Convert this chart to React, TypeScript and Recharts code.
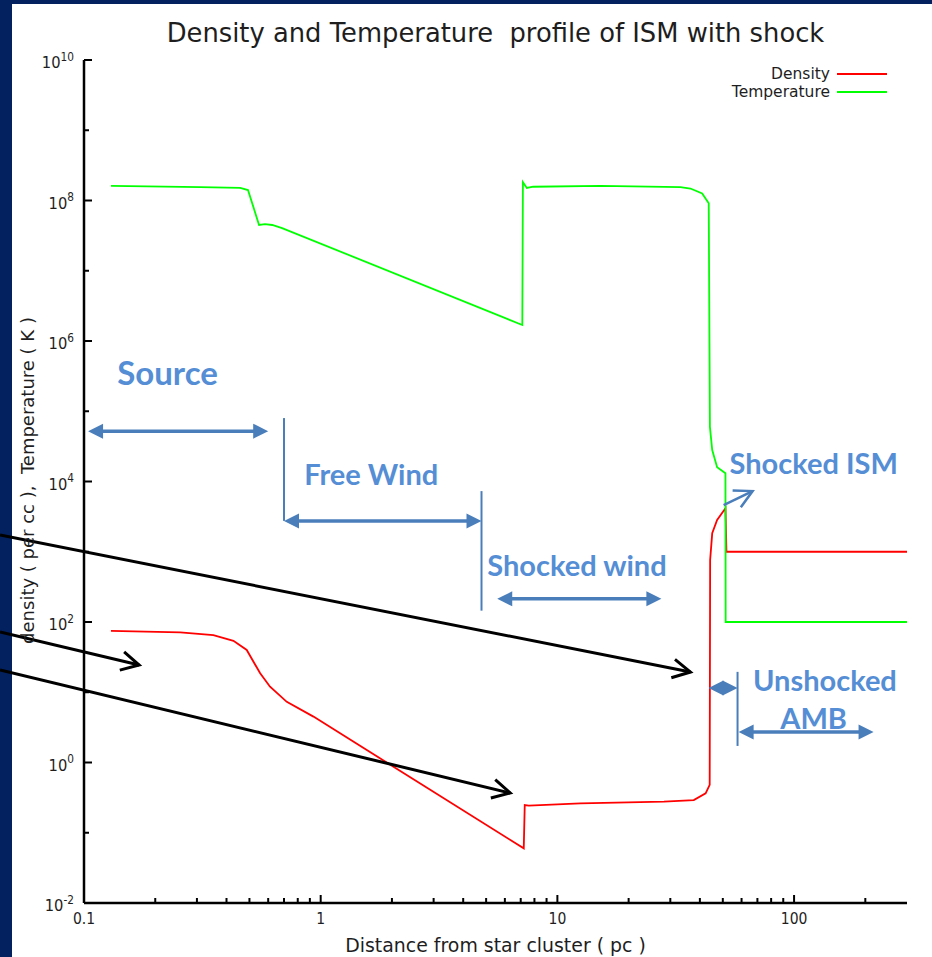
import React from "react";
import { LineChart, Line, XAxis, YAxis, ReferenceLine, ReferenceDot } from "recharts";

const WIDTH = 932;
const HEIGHT = 957;
const NAVY = "#03215f";
const RED = "#ff0000";
const GREEN = "#00ff00";
const NOTE_TEXT = "#558ed5";
const NOTE_LINE = "#4a7ebb";
const INK = "#1e1e1e";
const PLAIN = "'DejaVu Sans', sans-serif";
const NOTE_FONT = "Lato, 'Open Sans', sans-serif";

// axis ticks (log scales)
const distanceTicks = [
  0.1, 0.2, 0.3, 0.4, 0.5, 0.6, 0.7, 0.8, 0.9,
  1, 2, 3, 4, 5, 6, 7, 8, 9,
  10, 20, 30, 40, 50, 60, 70, 80, 90,
  100, 200,
];
const powerTicks = [1e-2, 1e-1, 1, 1e1, 1e2, 1e3, 1e4, 1e5, 1e6, 1e7, 1e8, 1e9, 1e10];

// temperature (K) vs distance (pc)
const tempDistance = [
  0.13, 0.31, 0.457, 0.493, 0.549, 0.582, 0.624, 0.687, 7.11, 7.15, 7.43, 7.9,
  15.2, 33.1, 36.5, 40.9, 43.6, 44.1, 45.1, 47.3, 51.3, 51.4, 300,
];
const temperature = [
  1.61e8, 1.55e8, 1.51e8, 1.41e8, 4.48e7, 4.62e7, 4.48e7, 4.05e7, 1.69e6, 1.83e8, 1.51e8, 1.57e8,
  1.61e8, 1.55e8, 1.48e8, 1.26e8, 9.1e7, 6.0e4, 2.8e4, 1.6e4, 1.31e4, 100, 100,
];

// number density (per cc) vs distance (pc)
const densDistance = [
  0.13, 0.255, 0.352, 0.428, 0.487, 0.555, 0.611, 0.719, 0.932, 7.21, 7.28, 7.57,
  12.5, 28.2, 37.7, 42.3, 44.0, 44.2, 45.1, 47.3, 51.3, 51.8, 300,
];
const density = [
  75, 71, 65, 54, 40, 18.6, 12.0, 7.3, 4.5, 0.06, 0.248, 0.243,
  0.262, 0.277, 0.292, 0.364, 0.48, 764, 1830, 2830, 4150, 1000, 1000,
];

const temperatureRows = tempDistance.map((r, i) => ({ r, v: temperature[i] }));
const densityRows = densDistance.map((r, i) => ({ r, v: density[i] }));

type Pt = { x: number; y: number };

// region markers drawn on top of the profile
const regionArrows: [Pt, Pt][] = [
  [{ x: 0.104, y: 5.2e4 }, { x: 0.6, y: 5.2e4 }],
  [{ x: 0.7, y: 2.75e3 }, { x: 4.78, y: 2.75e3 }],
  [{ x: 5.57, y: 214 }, { x: 27.5, y: 214 }],
  [{ x: 43.5, y: 11.5 }, { x: 57.7, y: 11.5 }],
  [{ x: 58.3, y: 2.72 }, { x: 216.7, y: 2.72 }],
];
const regionBounds: [Pt, Pt][] = [
  [{ x: 0.7, y: 8e4 }, { x: 0.7, y: 2.75e3 }],
  [{ x: 4.78, y: 7.3e3 }, { x: 4.78, y: 145 }],
  [{ x: 57.7, y: 19.5 }, { x: 57.7, y: 1.72 }],
];
const regionLabels = [
  { text: "Source", x: 0.2255, y: 3.5e5, size: 33 },
  { text: "Free Wind", x: 1.635, y: 1.24e4, size: 29 },
  { text: "Shocked wind", x: 12.1, y: 627, size: 29 },
  { text: "Shocked ISM", x: 121, y: 1.83e4, size: 29 },
  { text: "Unshocked", x: 135, y: 14.5, size: 29 },
  { text: "AMB", x: 121, y: 4.16, size: 29 },
];
const shockPointer: [Pt, Pt] = [{ x: 50.4, y: 4.6e3 }, { x: 66.8, y: 7.3e3 }];
const pointerArrows: [Pt, Pt][] = [
  [{ x: 0.0442, y: 1730 }, { x: 36.5, y: 19.4 }],
  [{ x: 0.0442, y: 72 }, { x: 0.171, y: 24.4 }],
  [{ x: 0.0442, y: 20.7 }, { x: 6.32, y: 0.368 }],
];

const isDecade = (v: number) => Math.abs(Math.log10(v) - Math.round(Math.log10(v))) < 1e-6;

function BottomTick(props: any) {
  const { x, y, payload } = props;
  const major = isDecade(payload.value);
  return (
    <g>
      <line x1={x} x2={x} y1={y} y2={y - (major ? 8 : 5)} stroke="#000" strokeWidth={2} />
      {major && (
        <text
          transform={`translate(${x},${y + 21}) scale(0.9,1)`}
          textAnchor="middle"
          fontFamily={PLAIN}
          fontSize={15.5}
          fill={INK}
        >
          {String(payload.value)}
        </text>
      )}
    </g>
  );
}

function TopTick(props: any) {
  const { x, y, payload } = props;
  const major = isDecade(payload.value);
  return <line x1={x} x2={x} y1={y} y2={y + (major ? 8 : 5)} stroke="#000" strokeWidth={2} />;
}

function LeftTick(props: any) {
  const { x, y, payload } = props;
  const exp = Math.round(Math.log10(payload.value));
  const labelled = exp % 2 === 0;
  return (
    <g>
      <line x1={x} x2={x + (labelled ? 8 : 5)} y1={y} y2={y} stroke="#000" strokeWidth={2} />
      {labelled && (
        <text
          transform={`translate(${x - 10},${y + 8}) scale(0.92,1)`}
          textAnchor="end"
          fontFamily={PLAIN}
          fontSize={16}
          fill={INK}
        >
          10
          <tspan dy={-7.5} fontSize={11.5}>
            {exp}
          </tspan>
        </text>
      )}
    </g>
  );
}

function RightTick(props: any) {
  const { x, y, payload } = props;
  const exp = Math.round(Math.log10(payload.value));
  const len = exp % 2 === 0 ? 8 : 5;
  return <line x1={x} x2={x - len} y1={y} y2={y} stroke="#000" strokeWidth={2} />;
}

function YTitle(props: any) {
  const { viewBox } = props;
  const cx = viewBox.x + 34;
  const cy = viewBox.y + viewBox.height / 2 - 1;
  return (
    <text
      transform={`translate(${cx},${cy}) rotate(-90)`}
      textAnchor="middle"
      fontFamily={PLAIN}
      fontSize={18}
      fill={INK}
      style={{ whiteSpace: "pre" }}
    >
      {"density ( per cc ),  Temperature ( K )"}
    </text>
  );
}

function XTitle(props: any) {
  const { viewBox } = props;
  const cx = viewBox.x + viewBox.width / 2;
  return (
    <text
      transform={`translate(${cx},${viewBox.y + 49}) scale(0.97,1)`}
      textAnchor="middle"
      fontFamily={PLAIN}
      fontSize={19.5}
      fill={INK}
    >
      Distance from star cluster ( pc )
    </text>
  );
}

const unit = (x1: number, y1: number, x2: number, y2: number) => {
  const len = Math.hypot(x2 - x1, y2 - y1) || 1;
  return { ux: (x2 - x1) / len, uy: (y2 - y1) / len, len };
};

function doubleArrow(props: any) {
  const { x1, y1, x2, y2 } = props;
  const { ux, uy, len } = unit(x1, y1, x2, y2);
  const head = 15;
  const half = 7.5;
  const nx = -uy;
  const ny = ux;
  const tri = (tx: number, ty: number, dir: number) => {
    const bx = tx - dir * ux * head;
    const by = ty - dir * uy * head;
    return `M${tx},${ty} L${bx + nx * half},${by + ny * half} L${bx - nx * half},${by - ny * half} Z`;
  };
  return (
    <g>
      {len > 2 * head && (
        <line
          x1={x1 + ux * (head - 1)}
          y1={y1 + uy * (head - 1)}
          x2={x2 - ux * (head - 1)}
          y2={y2 - uy * (head - 1)}
          stroke={NOTE_LINE}
          strokeWidth={3.5}
        />
      )}
      <path d={tri(x2, y2, 1)} fill={NOTE_LINE} />
      <path d={tri(x1, y1, -1)} fill={NOTE_LINE} />
    </g>
  );
}

const openArrow = (color: string, width: number, arm: number) => (props: any) => {
  const { x1, y1, x2, y2 } = props;
  const back = Math.atan2(y1 - y2, x1 - x2);
  const spread = (28 * Math.PI) / 180;
  const ax = x2 + arm * Math.cos(back + spread);
  const ay = y2 + arm * Math.sin(back + spread);
  const bx = x2 + arm * Math.cos(back - spread);
  const by = y2 + arm * Math.sin(back - spread);
  return (
    <g>
      <line x1={x1} y1={y1} x2={x2} y2={y2} stroke={color} strokeWidth={width} />
      <polyline
        points={`${ax},${ay} ${x2},${y2} ${bx},${by}`}
        fill="none"
        stroke={color}
        strokeWidth={width}
      />
    </g>
  );
};

const noteLabel = (text: string, size: number) => (props: any) => (
  <text
    x={props.cx}
    y={props.cy + size * 0.36}
    textAnchor="middle"
    fontFamily={NOTE_FONT}
    fontWeight={700}
    fontSize={size}
    fill={NOTE_TEXT}
  >
    {text}
  </text>
);

function LegendBox() {
  const rows = [
    { name: "Density", color: RED },
    { name: "Temperature", color: GREEN },
  ];
  return (
    <div style={{ position: "absolute", left: 600, top: 65, width: 287 }}>
      {rows.map((row) => (
        <div
          key={row.name}
          style={{ display: "flex", alignItems: "center", justifyContent: "flex-end", height: 18 }}
        >
          <span style={{ fontFamily: PLAIN, fontSize: 15.5, color: INK, marginRight: 7 }}>{row.name}</span>
          <span style={{ display: "inline-block", width: 50, height: 2, background: row.color }} />
        </div>
      ))}
    </div>
  );
}

export default function App() {
  return (
    <div
      style={{
        position: "absolute",
        left: 0,
        top: 0,
        width: WIDTH,
        height: HEIGHT,
        background: NAVY,
        overflow: "hidden",
      }}
    >
      <div style={{ position: "absolute", left: 12, top: 4, right: 0, bottom: 0, background: "#fff" }} />
      <div
        style={{
          position: "absolute",
          left: 84,
          top: 17,
          width: 823,
          textAlign: "center",
          fontFamily: PLAIN,
          fontSize: 25.8,
          lineHeight: "32px",
          color: INK,
          whiteSpace: "pre",
        }}
      >
        {"Density and Temperature  profile of ISM with shock"}
      </div>
      <div style={{ position: "absolute", left: 0, top: 0 }}>
        <LineChart
          width={WIDTH}
          height={HEIGHT}
          margin={{ top: 60, right: 25, bottom: 0, left: 0 }}
          style={{ overflow: "visible" }}
        >
          <XAxis
            dataKey="r"
            type="number"
            scale="log"
            domain={[0.1, 300]}
            allowDataOverflow
            ticks={distanceTicks}
            interval={0}
            tick={<BottomTick />}
            tickLine={false}
            tickSize={0}
            tickMargin={0}
            axisLine={{ stroke: "#000", strokeWidth: 2.5 }}
            height={54}
            label={<XTitle />}
          />
          <XAxis
            xAxisId="top"
            orientation="top"
            dataKey="r"
            type="number"
            scale="log"
            domain={[0.1, 300]}
            allowDataOverflow
            ticks={distanceTicks}
            interval={0}
            tick={<TopTick />}
            tickLine={false}
            tickSize={0}
            tickMargin={0}
            axisLine={{ stroke: "#000", strokeWidth: 2.5 }}
            height={0}
          />
          <YAxis
            type="number"
            scale="log"
            domain={[1e-2, 1e10]}
            allowDataOverflow
            ticks={powerTicks}
            interval={0}
            tick={<LeftTick />}
            tickLine={false}
            tickSize={0}
            tickMargin={0}
            axisLine={{ stroke: "#000", strokeWidth: 2.5 }}
            width={84}
            label={<YTitle />}
          />
          <YAxis
            yAxisId="right"
            orientation="right"
            type="number"
            scale="log"
            domain={[1e-2, 1e10]}
            allowDataOverflow
            ticks={powerTicks}
            interval={0}
            tick={<RightTick />}
            tickLine={false}
            tickSize={0}
            tickMargin={0}
            axisLine={{ stroke: "#000", strokeWidth: 2.5 }}
            width={0}
          />
          <Line
            data={densityRows}
            dataKey="v"
            name="Density"
            type="linear"
            stroke={RED}
            strokeWidth={1.8}
            dot={false}
            activeDot={false}
            isAnimationActive={false}
          />
          <Line
            data={temperatureRows}
            dataKey="v"
            name="Temperature"
            type="linear"
            stroke={GREEN}
            strokeWidth={1.8}
            dot={false}
            activeDot={false}
            isAnimationActive={false}
          />
          {regionBounds.map((seg, i) => (
            <ReferenceLine
              key={`b${i}`}
              segment={seg}
              ifOverflow="visible"
              stroke={NOTE_LINE}
              strokeWidth={2}
            />
          ))}
          {regionArrows.map((seg, i) => (
            <ReferenceLine key={`a${i}`} segment={seg} ifOverflow="visible" shape={doubleArrow} />
          ))}
          <ReferenceLine segment={shockPointer} ifOverflow="visible" shape={openArrow(NOTE_LINE, 2.5, 20)} />
          {pointerArrows.map((seg, i) => (
            <ReferenceLine key={`p${i}`} segment={seg} ifOverflow="visible" shape={openArrow("#000", 3, 20)} />
          ))}
          {regionLabels.map((l) => (
            <ReferenceDot
              key={l.text}
              x={l.x}
              y={l.y}
              r={0}
              ifOverflow="visible"
              shape={noteLabel(l.text, l.size)}
            />
          ))}
        </LineChart>
      </div>
      <LegendBox />
    </div>
  );
}
